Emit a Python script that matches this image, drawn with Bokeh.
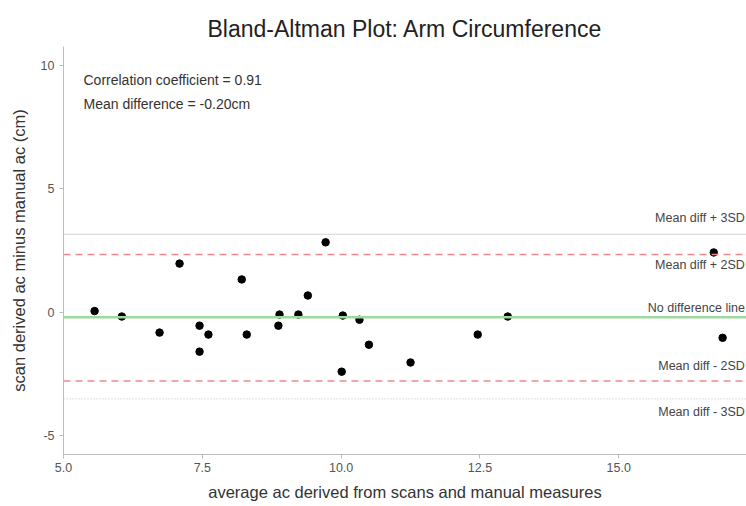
from bokeh.plotting import figure
from bokeh.models import Range1d, FixedTicker, Span, Label, Title, ColumnDataSource
from bokeh.core.properties import value
from bokeh.embed import file_html
from bokeh.resources import INLINE

# --- data ---
avg_ac = [5.56, 6.05, 6.73, 7.09, 7.45, 7.45, 7.61, 8.21, 8.30, 8.87, 8.89, 9.23,
          9.40, 9.72, 10.03, 10.01, 10.33, 10.50, 11.25, 12.46, 13.00, 16.71, 16.87]
diff_ac = [0.05, -0.17, -0.82, 1.97, -0.54, -1.59, -0.90, 1.33, -0.90, -0.54, -0.09, -0.09,
           0.68, 2.83, -0.13, -2.40, -0.30, -1.31, -2.03, -0.90, -0.17, 2.42, -1.03]

mean_diff = -0.20
upper_2sd = 2.34
lower_2sd = -2.78
upper_3sd = 3.15
lower_3sd = -3.50

line_labels = ["Mean diff + 3SD", "Mean diff + 2SD", "No difference line",
               "Mean diff - 2SD", "Mean diff - 3SD"]
line_label_y = [3.8, 1.93, 0.19, -2.16, -4.03]

x_ticks = [5.0, 7.5, 10.0, 12.5, 15.0]
x_tick_labels = ["5.0", "7.5", "10.0", "12.5", "15.0"]
y_ticks = [-5, 0, 5, 10]
y_tick_labels = ["-5", "0", "5", "10"]

annot_lines = ["Correlation coefficient = 0.91", "Mean difference = -0.20cm"]
annot_y = [9.39, 8.42]

FONT = "Liberation Sans"
X_END = 17.3

p = figure(width=746, height=506, output_backend="svg", toolbar_location=None,
           x_range=Range1d(5.0, X_END), y_range=Range1d(-5.75, 10.75),
           min_border_left=63, min_border_right=0, min_border_top=46, min_border_bottom=52)

p.add_layout(Title(text="Bland-Altman Plot: Arm Circumference", align="center",
                   text_font=FONT, text_font_size="23px", text_font_style="normal",
                   text_color="#222222", standoff=9), "above")

p.outline_line_color = None
p.xgrid.grid_line_color = None
p.ygrid.grid_line_color = None
p.background_fill_color = "white"
p.border_fill_color = "white"

for ax in (p.xaxis[0], p.yaxis[0]):
    ax.axis_line_color = "#bdbdbd"
    ax.major_tick_line_color = "#bdbdbd"
    ax.minor_tick_line_color = None
    ax.major_tick_out = 4
    ax.major_tick_in = 0
    ax.major_label_text_font = FONT
    ax.major_label_text_font_size = "12.5px"
    ax.major_label_text_color = "#555555"
    ax.axis_label_text_font = FONT
    ax.axis_label_text_font_size = "16.5px"
    ax.axis_label_text_font_style = "normal"
    ax.axis_label_text_color = "#333333"

p.xaxis.ticker = FixedTicker(ticks=x_ticks)
p.xaxis.major_label_overrides = {t: l for t, l in zip(x_ticks, x_tick_labels)}
p.yaxis.ticker = FixedTicker(ticks=y_ticks)
p.yaxis.major_label_overrides = {t: l for t, l in zip(y_ticks, y_tick_labels)}
p.xaxis.axis_label = "average ac derived from scans and manual measures"
p.yaxis.axis_label = "scan derived ac minus manual ac (cm)"
p.xaxis.axis_label_standoff = 8
p.xaxis.major_label_standoff = 4
p.yaxis.axis_label_standoff = 10

# reference lines
p.add_layout(Span(location=upper_3sd, dimension="width", line_color="#dcdcdc", line_width=1.2))
p.add_layout(Span(location=lower_3sd, dimension="width", line_color="#c9d3c9", line_width=1.2,
                  line_dash="1 2"))
p.add_layout(Span(location=upper_2sd, dimension="width", line_color="#ee8a8a", line_width=1.5,
                  line_dash="7 5"))
p.add_layout(Span(location=lower_2sd, dimension="width", line_color="#ee8a8a", line_width=1.5,
                  line_dash="7 5"))
p.add_layout(Span(location=mean_diff, dimension="width", line_color="#9ed89e", line_width=2.5))

# points
p.scatter(avg_ac, diff_ac, size=7.5, color="black")

# line labels at right edge
lab_src = ColumnDataSource(dict(x=[X_END - 0.03] * len(line_labels), y=line_label_y, t=line_labels))
p.text(x="x", y="y", text="t", source=lab_src, text_font=value(FONT), text_font_size="12.5px",
       text_color="#444444", text_align="right", text_baseline="middle")

# annotation text
for txt, yy in zip(annot_lines, annot_y):
    p.add_layout(Label(x=5.36, y=yy, text=txt, text_font=FONT, text_font_size="14px",
                       text_color="#333333", text_baseline="middle"))

open("out.html", "w").write(file_html(p, INLINE))
